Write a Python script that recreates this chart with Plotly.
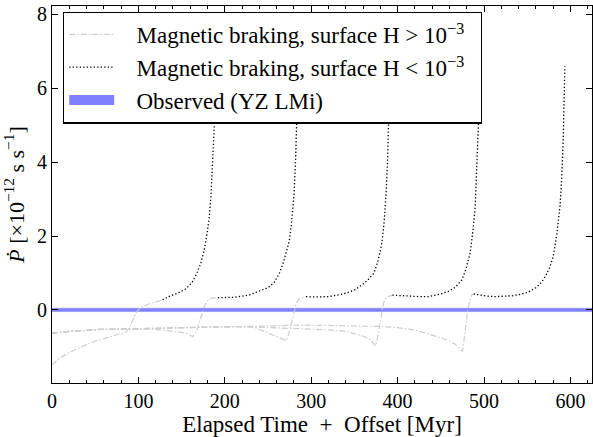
import plotly.graph_objects as go

# ---------------- data ----------------
# Model 1 : surface H > 1e-3 phase (dash-dot) and H < 1e-3 phase (dotted)
m1_hi_x = [0, 5, 10, 20, 30, 40, 50, 60, 70, 80, 86, 89, 92, 95, 98, 101, 105, 112, 120, 128]
m1_hi_y = [-1.49, -1.38, -1.29, -1.15, -1.04, -0.94, -0.85, -0.77, -0.71, -0.64, -0.6, -0.5, -0.35, -0.18, -0.05, 0.03, 0.09, 0.16, 0.22, 0.27]
m1_lo_x = [128, 135, 145, 155, 162, 167, 172, 176, 179, 182, 184, 186, 187.5, 189, 190]
m1_lo_y = [0.27, 0.36, 0.45, 0.57, 0.74, 0.96, 1.25, 1.6, 2.0, 2.5, 3.1, 3.9, 4.8, 5.8, 7.0]

# Model 2
m2_hi_x = [0, 10, 20, 36, 55, 75, 100, 115, 125, 135, 148, 155, 163, 167, 170, 173, 176, 179, 182, 186, 192]
m2_hi_y = [-0.63, -0.6, -0.58, -0.56, -0.53, -0.52, -0.51, -0.52, -0.54, -0.56, -0.6, -0.64, -0.72, -0.6, -0.4, -0.15, 0.08, 0.22, 0.28, 0.32, 0.33]
m2_lo_x = [192, 201, 210, 228, 240, 250, 257, 263, 268, 272, 274.5, 277, 280, 282, 283.5, 284.5, 285.5]
m2_lo_y = [0.33, 0.33, 0.34, 0.4, 0.5, 0.6, 0.74, 0.98, 1.3, 1.6, 1.85, 2.3, 3.1, 4.1, 5.1, 6.0, 7.0]

# Model 3
m3_hi_x = [0, 10, 20, 36, 55, 75, 100, 130, 150, 180, 200, 225, 235, 244, 255, 263, 271, 274, 277, 280, 283, 286, 290, 294]
m3_hi_y = [-0.63, -0.6, -0.58, -0.56, -0.53, -0.52, -0.51, -0.49, -0.47, -0.46, -0.455, -0.45, -0.48, -0.57, -0.66, -0.74, -0.83, -0.65, -0.35, -0.05, 0.2, 0.3, 0.34, 0.36]
m3_lo_x = [294, 305, 320, 335, 345, 351, 360, 366, 372.5, 377, 380, 382, 384.5, 386.7, 388.5, 389.8, 390.8, 391.5]
m3_lo_y = [0.36, 0.35, 0.36, 0.42, 0.49, 0.55, 0.7, 0.82, 0.99, 1.3, 1.6, 1.85, 2.4, 3.16, 4.1, 5.1, 6.0, 7.0]

# Model 4
m4_hi_x = [0, 10, 20, 36, 55, 75, 100, 130, 150, 180, 200, 230, 260, 288, 303, 320, 342, 352, 361, 368, 374.5, 377, 379, 381, 383, 385, 388, 394]
m4_hi_y = [-0.63, -0.6, -0.58, -0.56, -0.53, -0.52, -0.51, -0.49, -0.47, -0.46, -0.455, -0.46, -0.48, -0.5, -0.51, -0.54, -0.59, -0.65, -0.72, -0.8, -0.97, -0.75, -0.45, -0.15, 0.1, 0.28, 0.35, 0.4]
m4_lo_x = [394, 400, 410, 425, 436, 448, 459, 467, 474.4, 479, 484, 487.5, 489.8, 491.8, 493.6, 494.2]
m4_lo_y = [0.4, 0.39, 0.37, 0.36, 0.36, 0.42, 0.5, 0.62, 0.81, 1.1, 1.54, 2.2, 2.8, 3.8, 5.06, 5.4]

# Model 5
m5_hi_x = [0, 10, 20, 36, 55, 75, 100, 130, 150, 180, 200, 230, 260, 288, 303, 340, 380, 400, 419, 435, 448, 459, 466, 471, 475, 477, 479, 481, 483, 485, 486, 488]
m5_hi_y = [-0.63, -0.6, -0.58, -0.56, -0.53, -0.52, -0.51, -0.49, -0.47, -0.46, -0.455, -0.44, -0.43, -0.41, -0.42, -0.43, -0.45, -0.48, -0.54, -0.64, -0.74, -0.83, -0.92, -1.02, -1.12, -0.8, -0.4, -0.05, 0.2, 0.36, 0.41, 0.43]
m5_lo_x = [488, 495, 505, 513, 522, 532, 542, 551.3, 560, 566.7, 572, 576, 580, 584, 587.9, 590, 591.7, 592.8, 593.6]
m5_lo_y = [0.43, 0.4, 0.37, 0.36, 0.36, 0.38, 0.42, 0.48, 0.6, 0.75, 0.95, 1.15, 1.44, 2.0, 2.8, 3.6, 4.6, 5.6, 6.6]

# Observed P-dot band (YZ LMi)
obs_lo = -0.045
obs_hi = 0.045

x_range = [0, 625]
y_range = [-1.98, 8.23]
x_ticks = [0, 100, 200, 300, 400, 500, 600]
y_ticks = [0, 2, 4, 6, 8]

PAD = "\u00a0\u00a0\u00a0"
TAIL = "\u00a0\u00a0"
label_hi = PAD + "Magnetic braking, surface H &gt; 10<sup>−3</sup>" + TAIL
label_lo = PAD + "Magnetic braking, surface H &lt; 10<sup>−3</sup>" + TAIL
label_obs = PAD + "Observed (YZ LMi)"
x_title = "Elapsed Time\u2002+\u2002Offset [Myr]"
y_title = "<i>Ṗ</i> [×10<sup>−12</sup> s s<sup>−1</sup>]"

# ---------------- figure ----------------
GRAY = "#cdcdcd"
FONT = "Liberation Serif"

hi_models = [(m1_hi_x, m1_hi_y), (m2_hi_x, m2_hi_y), (m3_hi_x, m3_hi_y), (m4_hi_x, m4_hi_y), (m5_hi_x, m5_hi_y)]
lo_models = [(m1_lo_x, m1_lo_y), (m2_lo_x, m2_lo_y), (m3_lo_x, m3_lo_y), (m4_lo_x, m4_lo_y), (m5_lo_x, m5_lo_y)]

fig = go.Figure()

# observed band (drawn first, under the curves)
fig.add_trace(go.Scatter(
    x=[x_range[0], x_range[1], x_range[1], x_range[0], x_range[0]],
    y=[obs_lo, obs_lo, obs_hi, obs_hi, obs_lo],
    fill="toself", fillcolor="#8080ff", mode="lines",
    line=dict(width=0.5, color="#8080ff"), showlegend=False, hoverinfo="skip"))

for i, (x, y) in enumerate(hi_models):
    fig.add_trace(go.Scatter(
        x=x, y=y, mode="lines", name=label_hi, legendgroup="hi",
        showlegend=(i == 0), line=dict(color=GRAY, width=1.2, dash="6px,2px,1.5px,2px")))

for i, (x, y) in enumerate(lo_models):
    fig.add_trace(go.Scatter(
        x=x, y=y, mode="lines", name=label_lo, legendgroup="lo",
        showlegend=(i == 0), line=dict(color="black", width=1.3, dash="1.3px,2.2px")))

# legend entry for the observed band
fig.add_trace(go.Scatter(
    x=[None], y=[None], mode="lines", name=label_obs, legendgroup="obs",
    line=dict(color="#8080ff", width=17)))

axis_common = dict(
    showline=True, linecolor="black", linewidth=1.2, mirror="ticks",
    ticks="inside", tickcolor="black", ticklen=6, tickwidth=1.2,
    showgrid=False, zeroline=False,
    tickfont=dict(family=FONT, size=20, color="black"),
)

fig.update_xaxes(
    range=x_range, tickvals=x_ticks, **axis_common,
    minor=dict(dtick=20, ticks="inside", ticklen=3, tickcolor="black", tickwidth=1, showgrid=False),
    title=dict(text=x_title, font=dict(family=FONT, size=23, color="black"), standoff=2),
)
fig.update_yaxes(
    range=y_range, tickvals=y_ticks, **axis_common,
    title=dict(text=y_title, font=dict(family=FONT, size=22, color="black"), standoff=6),
)

fig.update_layout(
    width=593, height=437,
    margin=dict(l=52, r=1, t=6, b=54),
    paper_bgcolor="white", plot_bgcolor="white",
    font=dict(family=FONT, size=20, color="black"),
    legend=dict(
        x=0.0204, y=0.985, xanchor="left", yanchor="top",
        bgcolor="white", bordercolor="black", borderwidth=1.2,
        font=dict(family=FONT, size=23, color="black"),
        tracegroupgap=0, itemwidth=45, traceorder="grouped",
    ),
    showlegend=True,
)

fig.write_html("out.html")
